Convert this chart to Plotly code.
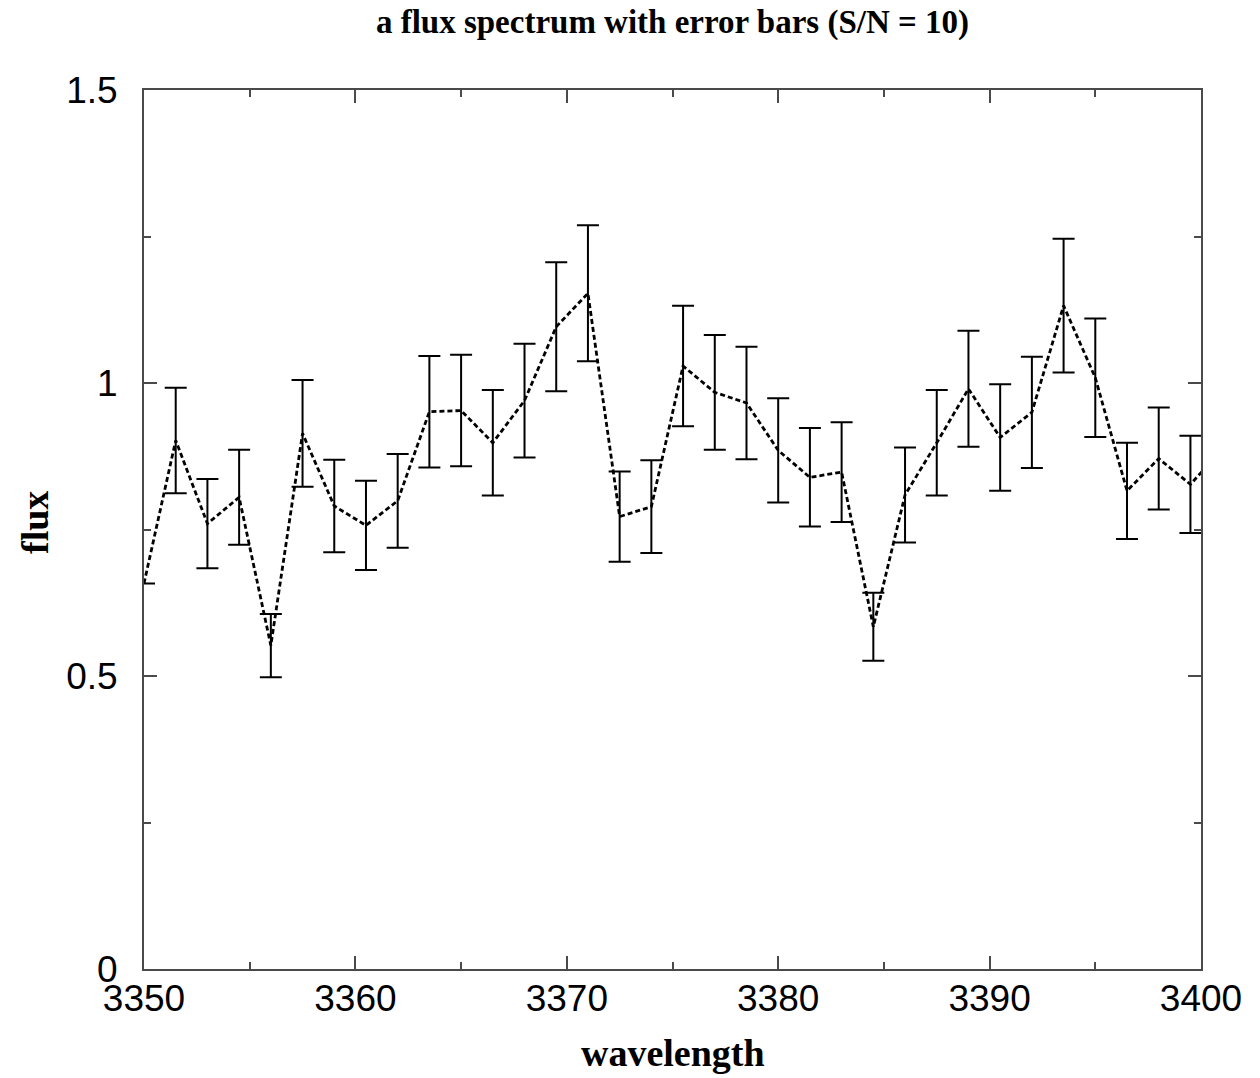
import plotly.graph_objects as go

wavelength = [3350.0, 3351.5, 3353.0, 3354.5, 3356.0, 3357.5, 3359.0, 3360.5, 3362.0,
              3363.5, 3365.0, 3366.5, 3368.0, 3369.5, 3371.0, 3372.5, 3374.0, 3375.5,
              3377.0, 3378.5, 3380.0, 3381.5, 3383.0, 3384.5, 3386.0, 3387.5, 3389.0,
              3390.5, 3392.0, 3393.5, 3395.0, 3396.5, 3398.0, 3399.5, 3401.0]
flux = [0.658, 0.902, 0.760, 0.805, 0.552, 0.914, 0.790, 0.757, 0.799,
        0.951, 0.953, 0.898, 0.970, 1.096, 1.153, 0.772, 0.789, 1.029,
        0.984, 0.966, 0.885, 0.839, 0.848, 0.584, 0.809, 0.898, 0.990,
        0.907, 0.950, 1.132, 1.009, 0.816, 0.871, 0.827, 0.887]
# the bar of the first point sits on the frame and is not visible in the original
flux_err = [None, 0.090, 0.076, 0.081, 0.054, 0.091, 0.079, 0.076, 0.080,
            0.095, 0.095, 0.090, 0.097, 0.110, 0.116, 0.077, 0.079, 0.103,
            0.098, 0.096, 0.089, 0.084, 0.085, 0.058, 0.081, 0.090, 0.099,
            0.091, 0.095, 0.114, 0.101, 0.082, 0.087, 0.083, 0.089]

x_ticks = [3350, 3360, 3370, 3380, 3390, 3400]
y_ticks = [0, 0.5, 1, 1.5]

axis_col = "#4a4a4a"
serif = "Liberation Serif"
sans = "Liberation Sans"

W, H = 1260, 1078
L, R, T, B = 144, 59, 90, 109
pw, ph = W - L - R, H - T - B

fig = go.Figure()
fig.add_trace(go.Scatter(
    x=wavelength, y=flux, mode="lines",
    line=dict(color="black", width=2.8, dash="5px,3px"),
    error_y=dict(type="data", array=flux_err, visible=True,
                 color="black", thickness=2, width=11),
    showlegend=False, hoverinfo="skip",
))

fig.update_layout(
    width=W, height=H,
    margin=dict(l=L, r=R, t=T, b=B),
    paper_bgcolor="white", plot_bgcolor="white",
    title=dict(text="<b>a flux spectrum with error bars (S/N = 10)</b>",
               x=0.5, xanchor="center", xref="paper",
               y=1 - 21 / H, yanchor="middle",
               font=dict(family=serif, size=33, color="black")),
    xaxis=dict(range=[3350, 3400], tickvals=x_ticks, automargin=False,
               ticks="inside", ticklen=13, tickwidth=1.5, tickcolor=axis_col,
               minor=dict(dtick=5, ticks="inside", ticklen=7, tickwidth=1.5, tickcolor=axis_col),
               showline=True, linecolor=axis_col, linewidth=2, mirror="ticks",
               showgrid=False, zeroline=False,
               tickfont=dict(family=sans, size=37, color="black"),
               ticklabelstandoff=-4),
    yaxis=dict(range=[0, 1.5], tickvals=y_ticks, automargin=False,
               ticks="inside", ticklen=13, tickwidth=1.5, tickcolor=axis_col,
               minor=dict(dtick=0.25, ticks="inside", ticklen=7, tickwidth=1.5, tickcolor=axis_col),
               showline=True, linecolor=axis_col, linewidth=2, mirror="ticks",
               showgrid=False, zeroline=False,
               tickfont=dict(family=sans, size=37, color="black"),
               ticklabelstandoff=17),
    annotations=[
        dict(text="<b>wavelength</b>", xref="paper", yref="paper",
             x=0.5, y=(969 - 1053) / ph, xanchor="center", yanchor="middle",
             showarrow=False, font=dict(family=serif, size=38, color="black")),
        dict(text="<b>flux</b>", xref="paper", yref="paper",
             x=(35 - L) / pw, y=(969 - 523) / ph, xanchor="center", yanchor="middle",
             textangle=-90, showarrow=False,
             font=dict(family=serif, size=38, color="black")),
    ],
)

fig.write_html("out.html")
